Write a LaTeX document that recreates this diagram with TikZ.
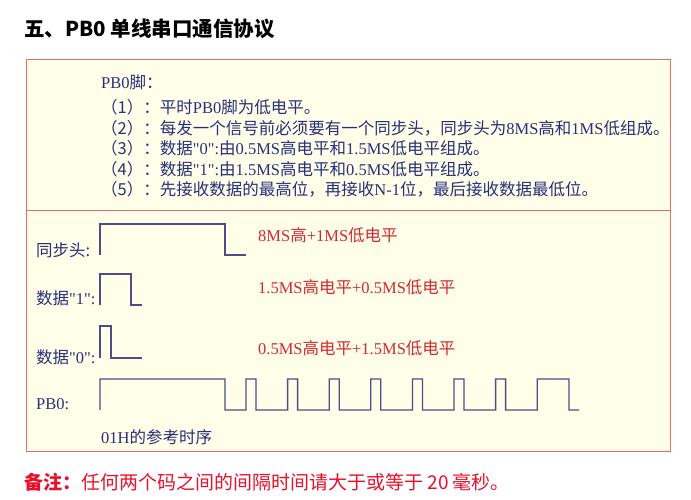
\documentclass[tikz,border=0pt]{standalone}
\usepackage{xcolor}
\usepackage{fontspec}
\setmainfont{Liberation Serif}
\newfontfamily\cjkfont{Noto Sans CJK SC}
\newcommand{\zh}[1]{{\cjkfont #1}}
\newcommand{\dq}{\textquotedbl}
\usepackage{tikz}
\usetikzlibrary{positioning}
\definecolor{boxfill}{HTML}{FFFEE8}
\definecolor{boxline}{HTML}{E07070}
\definecolor{navy}{HTML}{28307C}
\definecolor{wavecol}{HTML}{4C4E88}
\definecolor{labelred}{HTML}{D12A36}
\definecolor{notered}{HTML}{E8102A}

\begin{document}
\begin{tikzpicture}[x=1pt,y=-1pt,line join=miter,
font=\fontsize{16.5}{18}\selectfont]

\tikzstyle{note}=[anchor=base west,inner sep=0pt,text=navy]
\tikzstyle{redlabel}=[anchor=base west,inner sep=0pt,text=labelred]
\tikzstyle{wave}=[draw=wavecol,line width=1.3pt]

\useasboundingbox (0,0) rectangle (691,500);

%title
\node[anchor=base west,inner sep=0pt,font=\cjkfont\bfseries\fontsize{20.5}{22}\selectfont]
(title) at (24,37)
{五、PB0 单线串口通信协议};

%frame
\draw[draw=boxline,fill=boxfill,line width=1pt] (26,60) rectangle (670,451);
\draw[draw=boxline,line width=1pt] (26,210) -- (670,210);

%rules
\node[note]
(pin) at (101,89)
{PB0\zh{脚：}};

\node[note,below=25pt of pin.base west,anchor=base west]
(r1)
{\zh{（1）：平时}PB0\zh{脚为低电平。}};

\node[note,below=20.5pt of r1.base west,anchor=base west]
(r2)
{\zh{（2）：每发一个信号前必须要有一个同步头，同步头为}8MS\zh{高和}1MS\zh{低组成。}};

\node[note,below=20.5pt of r2.base west,anchor=base west]
(r3)
{\zh{（3）：数据}\dq0\dq:\zh{由}0.5MS\zh{高电平和}1.5MS\zh{低电平组成。}};

\node[note,below=20.5pt of r3.base west,anchor=base west]
(r4)
{\zh{（4）：数据}\dq1\dq:\zh{由}1.5MS\zh{高电平和}0.5MS\zh{低电平组成。}};

\node[note,below=20.5pt of r4.base west,anchor=base west]
(r5)
{\zh{（5）：先接收数据的最高位，再接收}N-1\zh{位，最后接收数据最低位。}};

%signal names
\node[note] (sync) at (36,256) {\zh{同步头:}};
\node[note] (one) at (36,304) {\zh{数据}\dq1\dq:};
\node[note] (zero) at (36,363) {\zh{数据}\dq0\dq:};
\node[note] (pb) at (36,409) {PB0:};
\node[note] (ref) at (101,443) {01H\zh{的参考时序}};

\node[redlabel] (synctxt) at (258,241) {8MS\zh{高}+1MS\zh{低电平}};
\node[redlabel] (onetxt) at (258,293) {1.5MS\zh{高电平}+0.5MS\zh{低电平}};
\node[redlabel] (zerotxt) at (258,354) {0.5MS\zh{高电平}+1.5MS\zh{低电平}};

%waveforms
\draw[wave] (100,255) -- (100,224) -- (225,224) -- (225,255) -- (246,255);
\draw[wave] (100,305) -- (100,274) -- (131,274) -- (131,305) -- (142,305);
\draw[wave] (100,358) -- (100,326) -- (111,326) -- (111,358) -- (142,358);

\draw[wave] (100,410) -- (100,379) -- (225,379) -- (225,410) -- (246,410)
  \foreach \x in {246,287.6,329.2,370.8,412.4,454,495.6} {
    -- (\x,379) -- (\x+10,379) -- (\x+10,410) -- (\x+41.6,410)}
  -- (537.2,379) -- (569,379) -- (569,410) -- (579,410);

%remark
\node[anchor=base west,inner sep=0pt,text=notered,font=\cjkfont\fontsize{19}{21}\selectfont]
(remark) at (24,489)
{\textbf{备注：}任何两个码之间的间隔时间请大于或等于 20 毫秒。};

\end{tikzpicture}
\end{document}
